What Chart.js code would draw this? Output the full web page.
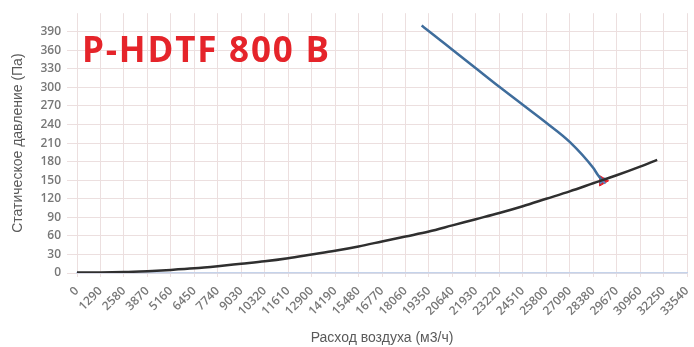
<!DOCTYPE html>
<html lang="ru">
<head>
  <meta charset="UTF-8">
  <title>P-HDTF 800 B</title>
  <script src="https://cdn.jsdelivr.net/npm/chart.js"></script>
  <style>
    body { margin: 0; background: #fff; }
    .wrap { position: relative; width: 694px; height: 347px; }
    .model {
      position: absolute; left: 82px; top: 31px;
      font-family: "Open Sans", sans-serif; font-weight: 700; font-size: 35px;
      line-height: 1; color: #e5242a; letter-spacing: 1.8px;
    }
  </style>
</head>
<body>
<div class="wrap">
  <canvas id="grafico" width="694" height="347"></canvas>
  <div class="model">P-HDTF 800 B</div>
</div>

<script>
  // расход воздуха, м3/ч
  const flowTicks = [0, 1290, 2580, 3870, 5160, 6450, 7740, 9030, 10320, 11610, 12900, 14190, 15480,
    16770, 18060, 19350, 20640, 21930, 23220, 24510, 25800, 27090, 28380, 29670, 30960, 32250, 33540];

  // характеристика сети
  const netFlow = [0, 1290, 2580, 3870, 5160, 6450, 7740, 9030, 10320, 11610, 12900, 14190, 15480,
    16770, 18060, 19350, 20640, 21930, 23220, 24510, 25800, 27090, 28380, 29670, 30960, 31900];
  const netPress = [1, 1, 1.5, 3, 5, 7.5, 11, 15, 19, 24, 30, 36, 43,
    51, 59, 67, 77, 87, 97, 108, 120, 132, 145, 158, 172, 183];

  // характеристика вентилятора
  const fanFlow = [18950, 19350, 20640, 21930, 23220, 24510, 25800, 27090, 28380, 28650, 28900];
  const fanPress = [400, 391, 361, 331, 301, 272, 243, 212, 170, 158, 149];

  // рабочая точка
  const workFlow = [28900];
  const workPress = [149];

  const toXY = (xs, ys) => xs.map((x, i) => ({ x: x, y: ys[i] }));

  new Chart(document.getElementById('grafico'), {
    type: 'scatter',
    data: {
      datasets: [
        {
          label: 'Сеть',
          data: toXY(netFlow, netPress),
          showLine: true,
          borderColor: '#2f2f2f',
          borderWidth: 2.5,
          pointRadius: 0,
          cubicInterpolationMode: 'monotone'
        },
        {
          label: 'Вентилятор',
          data: toXY(fanFlow, fanPress),
          showLine: true,
          borderColor: '#3f6d9c',
          borderWidth: 2.5,
          pointRadius: 0,
          cubicInterpolationMode: 'monotone'
        },
        {
          label: 'x',
          data: toXY(workFlow, workPress),
          pointStyle: 'crossRot',
          pointRadius: 4,
          borderColor: '#5a85c0',
          borderWidth: 2
        },
        {
          label: 'Рабочая точка',
          data: toXY(workFlow, workPress),
          pointStyle: 'triangle',
          rotation: 90,
          pointRadius: 6,
          backgroundColor: '#e3202a',
          borderColor: '#e3202a'
        }
      ]
    },
    options: {
      responsive: false,
      animation: false,
      layout: { padding: { right: 5, top: 12, left: 0, bottom: 0 } },
      plugins: { legend: { display: false }, tooltip: { enabled: false } },
      scales: {
        x: {
          type: 'linear',
          min: 0, max: 33540,
          afterBuildTicks: (axis) => { axis.ticks = flowTicks.map(v => ({ value: v })); },
          afterFit: (axis) => { axis.height = 74; axis.paddingLeft = 0; axis.paddingRight = 0; },
          ticks: {
            autoSkip: false,
            minRotation: 45, maxRotation: 45, padding: 7,
            color: '#777777',
            font: { family: 'Open Sans', size: 12, weight: '600' },
            callback: (v) => String(v)
          },
          grid: { color: '#ecdfdf', tickLength: 4 },
          border: { color: '#c5d3ea', width: 1.5 },
          title: {
            display: true, text: 'Расход воздуха (м3/ч)',
            color: '#5a5a5a', font: { family: 'Liberation Sans', size: 14 },
            padding: { top: 4, bottom: 0 }
          }
        },
        y: {
          min: 0, max: 420,
          afterFit: (axis) => { axis.width = 77; },
          ticks: {
            stepSize: 30, padding: 6,
            color: '#777777',
            font: { family: 'Open Sans', size: 12, weight: '600' },
            callback: (v) => (v >= 400 ? null : v)
          },
          grid: { color: '#ecdfdf', tickLength: 10 },
          border: { display: false },
          title: {
            display: true, text: 'Статическое давление (Па)',
            color: '#5a5a5a', font: { family: 'Liberation Sans', size: 14 },
            padding: { top: 10, bottom: 4 }
          }
        }
      }
    }
  });
</script>
</body>
</html>
